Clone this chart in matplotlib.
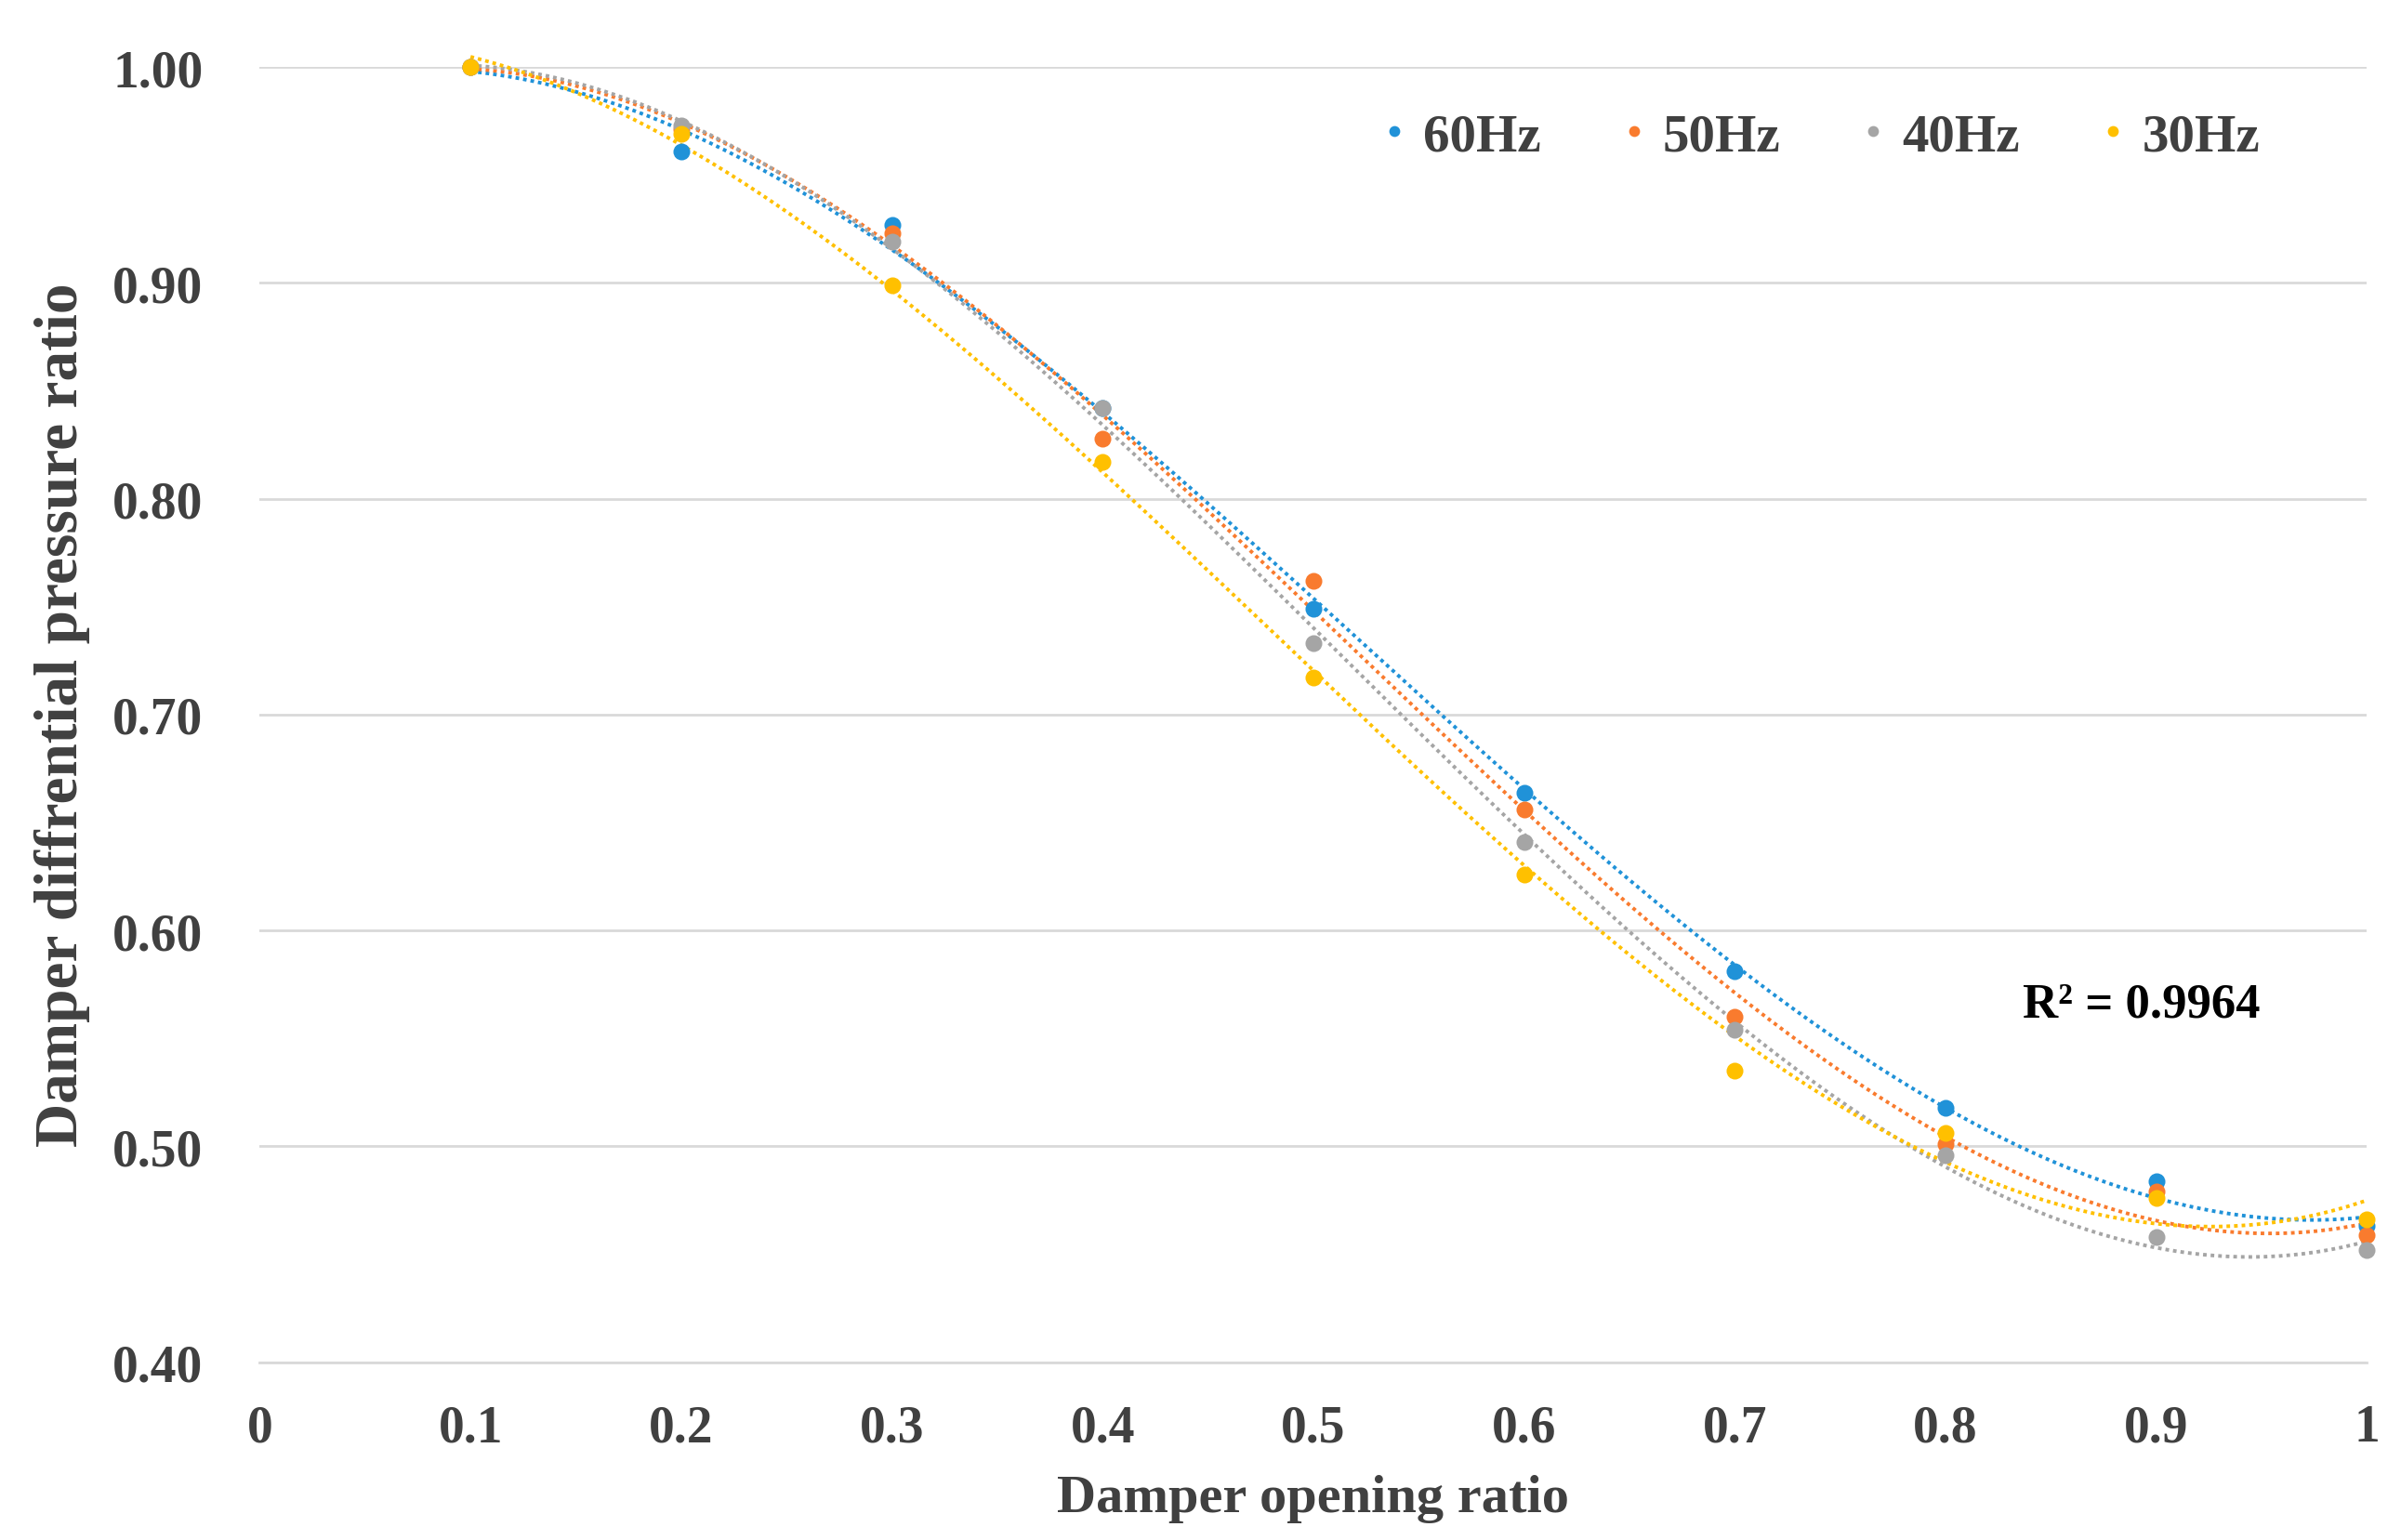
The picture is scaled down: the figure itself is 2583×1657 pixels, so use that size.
import matplotlib
matplotlib.use("Agg")
import matplotlib.pyplot as plt
import numpy as np

# damper opening ratio vs differential pressure ratio
opening = [0.1, 0.2, 0.3, 0.4, 0.5, 0.6, 0.7, 0.8, 0.9, 1.0]
hz60 = [1.000, 0.961, 0.927, 0.842, 0.749, 0.664, 0.581, 0.518, 0.484, 0.463]
hz50 = [1.000, 0.971, 0.923, 0.828, 0.762, 0.656, 0.560, 0.501, 0.479, 0.459]
hz40 = [1.000, 0.973, 0.919, 0.842, 0.733, 0.641, 0.554, 0.496, 0.458, 0.452]
hz30 = [1.000, 0.969, 0.899, 0.817, 0.717, 0.626, 0.535, 0.506, 0.476, 0.466]
series_names = ["60Hz", "50Hz", "40Hz", "30Hz"]
x_ticks = [0, 0.1, 0.2, 0.3, 0.4, 0.5, 0.6, 0.7, 0.8, 0.9, 1.0]
x_tick_labels = ["0", "0.1", "0.2", "0.3", "0.4", "0.5", "0.6", "0.7", "0.8", "0.9", "1"]
y_ticks = [0.40, 0.50, 0.60, 0.70, 0.80, 0.90, 1.00]
r2_label = "R² = 0.9964"

colors = ["#2092D8", "#F97B2E", "#A5A5A5", "#FFC000"]
text_color = "#404040"
grid_color = "#D9D9D9"

plt.rcParams["font.family"] = ["Liberation Serif", "DejaVu Serif"]
plt.rcParams["font.weight"] = "bold"

fig = plt.figure(figsize=(25.83, 16.58), dpi=100)
ax = fig.add_axes([0.1082, 0.1154, 0.8776, 0.8405])

xs = np.array(opening)
xfit = np.linspace(0.1, 1.0, 300)
handles = []
for name, ys, col in zip(series_names, [hz60, hz50, hz40, hz30], colors):
    # Excel-style 3rd order polynomial trendline
    coef = np.polyfit(xs, np.array(ys), 3)
    ax.plot(xfit, np.polyval(coef, xfit), color=col, lw=2.8,
            ls=(0, (1, 1.1)), clip_on=False, zorder=2)
    h, = ax.plot(xs, ys, "o", color=col, ms=13, mew=0, clip_on=False,
                 zorder=3, label=name)
    handles.append(h)

ax.set_xlim(0, 1)
ax.set_ylim(0.40, 1.00)
ax.set_xticks(x_ticks)
ax.set_xticklabels(x_tick_labels)
ax.set_yticks(y_ticks)
ax.set_yticklabels([f"{v:.2f}" for v in y_ticks])
ax.tick_params(axis="both", length=0, labelsize=40, labelcolor=text_color)
ax.tick_params(axis="x", pad=32)
ax.tick_params(axis="y", pad=44)
for lab in ax.get_xticklabels() + ax.get_yticklabels():
    lab.set_fontweight("bold")

ax.grid(axis="y", color=grid_color, lw=2)
ax.set_axisbelow(True)
for side in ["top", "left", "right"]:
    ax.spines[side].set_visible(False)
ax.spines["bottom"].set_color(grid_color)
ax.spines["bottom"].set_linewidth(2)

ax.text(0.893, 0.566, r2_label, ha="center", va="center", fontsize=38,
        fontweight="bold", color="black")

leg = ax.legend(handles=handles, loc="center", bbox_to_anchor=(0.740, 0.946),
                ncol=4, frameon=False, fontsize=41, markerscale=0.65,
                handlelength=0.6, handletextpad=0.25, columnspacing=1.45)
for t in leg.get_texts():
    t.set_color(text_color)
    t.set_fontweight("bold")

fig.text(0.547, 0.027, "Damper opening ratio", ha="center", va="center",
         fontsize=42, fontweight="bold", color=text_color)
fig.text(0.026, 0.536, "Damper diffrential pressure ratio", ha="center",
         va="center", rotation=90, fontsize=47, fontweight="bold",
         color=text_color)

fig.savefig("out.png", dpi=100)
